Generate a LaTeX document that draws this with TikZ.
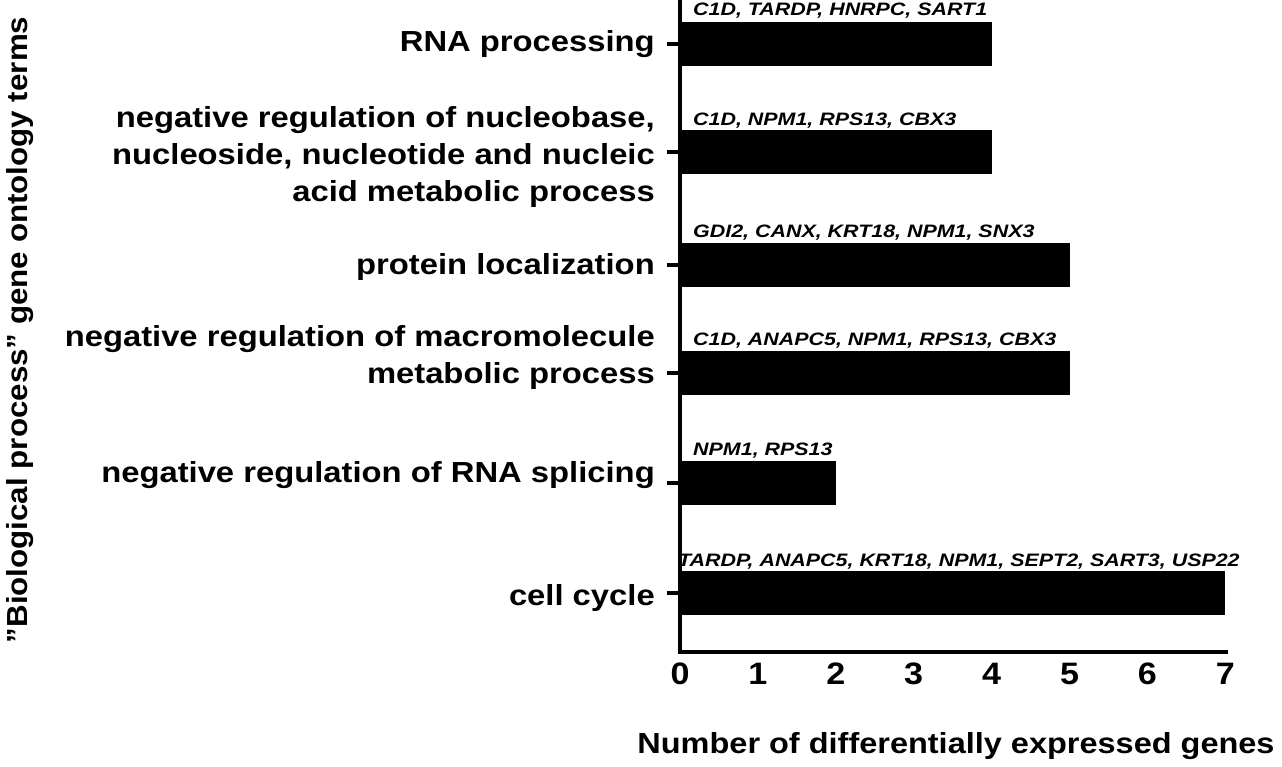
\documentclass[tikz,border=0pt]{standalone}
\usepackage{fontspec}
\setmainfont{Liberation Sans}
\begin{document}
\begin{tikzpicture}[x=1pt,y=-1pt,
  cat/.style={font=\fontsize{29}{37}\selectfont\bfseries,align=right,anchor=east,inner sep=0pt,xscale=1.13},
  gene/.style={font=\fontsize{18}{20}\selectfont\bfseries\itshape,anchor=south west,inner sep=0pt,xscale=1.19},
  bar/.style={fill=black,draw=none},
  num/.style={font=\fontsize{31}{32}\selectfont\bfseries,anchor=north,inner sep=0pt,xscale=1.1}]
\useasboundingbox (0,0) rectangle (1282,767);
\def\u{77.9}
% axes
\coordinate (o) at (680,652);
\coordinate (top) at (680,0);
\coordinate (xe) at (1228,652);
\draw[line width=4pt] (top) -- (o) -- (xe);
% bars
\foreach \y/\v/\n in {44/4/a,152/4/b,265/5/c,373/5/d,483/2/e,593/7/f}{
  \fill[bar] (682,\y-22) rectangle (680+\v*\u,\y+22);
  \draw[line width=4pt] (667,\y) -- (680,\y);
}
% x ticks
\foreach \i in {0,...,7}{
  \node[num] (t\i) at (680+\i*\u,663) {\i};
}
% category labels
\node[cat] (ca) at (655,44) {RNA processing};
\node[cat] (cb) at (655,157) {negative regulation of nucleobase,\\nucleoside, nucleotide and nucleic\\acid metabolic process};
\node[cat] (cc) at (655,267) {protein localization};
\node[cat] (cd) at (655,358) {negative regulation of macromolecule\\metabolic process};
\node[cat] (ce) at (655,475) {negative regulation of RNA splicing};
\node[cat] (cf) at (655,598) {cell cycle};
% gene labels
\node[gene] (ga) at (693,18) {C1D, TARDP, HNRPC, SART1};
\node[gene] (gb) at (693,128) {C1D, NPM1, RPS13, CBX3};
\node[gene] (gc) at (693,240) {GDI2, CANX, KRT18, NPM1, SNX3};
\node[gene] (gd) at (693,348) {C1D, ANAPC5, NPM1, RPS13, CBX3};
\node[gene] (ge) at (693,458) {NPM1, RPS13};
\node[gene] (gf) at (678,569) {TARDP, ANAPC5, KRT18, NPM1, SEPT2, SART3, USP22};
% axis titles
\node[font=\fontsize{29}{32}\selectfont\bfseries,inner sep=0pt,xscale=1.12] (xt) at (956,746) {Number of differentially expressed genes};
\node[font=\fontsize{29}{32}\selectfont\bfseries,inner sep=0pt,rotate=90,xscale=1.08] (yt) at (20,330) {\symbol{34}Biological process\symbol{34} gene ontology terms};
\end{tikzpicture}
\end{document}
